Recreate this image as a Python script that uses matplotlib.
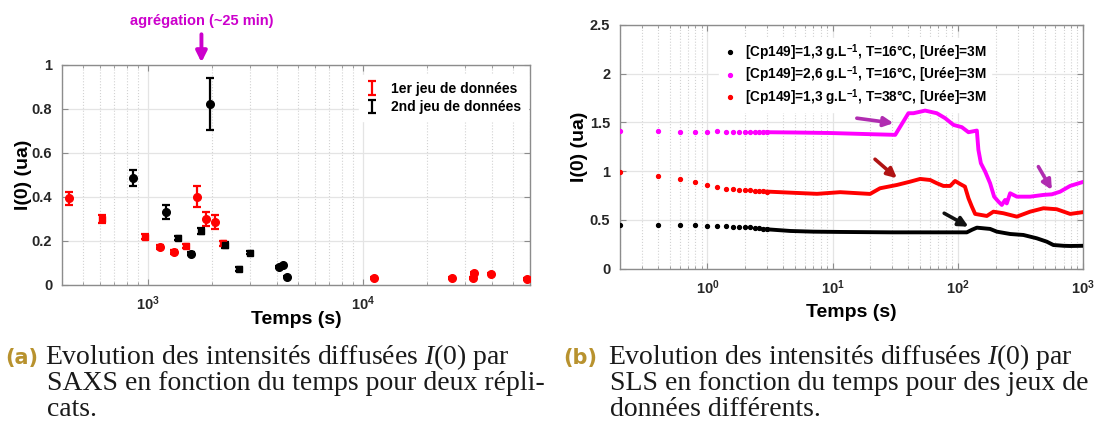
import matplotlib.pyplot as plt
import matplotlib.ticker as mticker
import numpy as np

plt.rcParams['font.family'] = ['Liberation Sans', 'DejaVu Sans']
plt.rcParams['axes.labelweight'] = 'bold'
plt.rcParams['mathtext.fontset'] = 'custom'
plt.rcParams['mathtext.rm'] = 'Liberation Sans:bold'
plt.rcParams['mathtext.bf'] = 'Liberation Sans:bold'
plt.rcParams['mathtext.it'] = 'Liberation Serif:italic'

# SAXS, 1er jeu de données
saxs1_t = [429, 612, 972, 1144, 1328, 1516, 1690, 1867, 2049, 2240,
           11300, 26000, 32500, 33100, 39700, 58200]
saxs1_i = [0.392, 0.298, 0.217, 0.170, 0.147, 0.175, 0.400, 0.298, 0.285, 0.188,
           0.028, 0.030, 0.031, 0.053, 0.050, 0.025]
saxs1_err = [0.029, 0.019, 0.011, 0.008, 0.008, 0.010, 0.047, 0.031, 0.033, 0.012,
             0.004, 0.004, 0.004, 0.005, 0.004, 0.003]
saxs1_mk = ['o', 's', 's', 'o', 'o', 's', 'o', 'o', 'o', 's',
            'o', 'o', 'o', 'o', 'o', 'o']

# SAXS, 2nd jeu de données
saxs2_t = [852, 1220, 1392, 1587, 1766, 1943, 2286, 2667, 3008, 4098, 4263, 4463]
saxs2_i = [0.486, 0.330, 0.213, 0.140, 0.244, 0.823, 0.180, 0.070, 0.145, 0.078, 0.088, 0.036]
saxs2_err = [0.036, 0.030, 0.010, 0.006, 0.012, 0.120, 0.012, 0.010, 0.008, 0.005, 0.005, 0.004]
saxs2_mk = ['o', 'o', 's', 'o', 's', 'o', 's', 's', 's', 'o', 'o', 'o']

# SLS, first seconds (one point every 0.2 s)
sls_t_early = [0.2, 0.4, 0.6, 0.8, 1.0, 1.2, 1.4, 1.6, 1.8, 2.0, 2.2, 2.4, 2.6, 2.8, 3.0]
sls_black_early = [0.449, 0.445, 0.449, 0.445, 0.438, 0.438, 0.435, 0.428, 0.428, 0.428,
                   0.425, 0.421, 0.418, 0.411, 0.404]
sls_magenta_early = [1.414, 1.414, 1.407, 1.407, 1.404, 1.410, 1.404, 1.404, 1.400, 1.404,
                     1.404, 1.404, 1.404, 1.400, 1.400]
sls_red_early = [0.996, 0.952, 0.918, 0.890, 0.859, 0.835, 0.818, 0.815, 0.808, 0.808,
                 0.805, 0.801, 0.798, 0.794, 0.791]

# SLS, later times (dense acquisition)
sls_black_t = [3.0, 4.6, 7, 11.5, 30, 60, 118, 130, 142, 181, 205, 262, 334, 427, 514,
               580, 700, 789, 1000]
sls_black_i = [0.404, 0.387, 0.380, 0.377, 0.373, 0.373, 0.373, 0.400, 0.421, 0.408, 0.380,
               0.356, 0.346, 0.312, 0.277, 0.243, 0.235, 0.233, 0.235]

sls_magenta_t = [3.0, 5, 9.55, 20, 31.6, 40.3, 44.2, 54.8, 67.9, 79.2, 92.3, 107.6, 121.6,
                 141.9, 146, 152.8, 165.4, 181, 195, 211, 224.6, 238.5, 246, 261.7, 296,
                 378, 483, 564, 656, 789, 1000]
sls_magenta_i = [1.400, 1.397, 1.392, 1.380, 1.373, 1.595, 1.595, 1.622, 1.595, 1.544, 1.475,
                 1.452, 1.400, 1.417, 1.219, 1.082, 0.996, 0.877, 0.739, 0.688, 0.654, 0.705,
                 0.670, 0.774, 0.739, 0.739, 0.757, 0.763, 0.790, 0.849, 0.890]

sls_red_t = [3.0, 4.6, 7.5, 11.5, 19.9, 23.9, 32.6, 41.6, 50, 60.1, 67.9, 76.7, 86.8, 95.1,
             104, 114, 121.6, 129.4, 137.5, 170.4, 192.5, 231, 296, 378, 483, 617, 789, 1000]
sls_red_i = [0.791, 0.780, 0.768, 0.785, 0.767, 0.825, 0.859, 0.893, 0.921, 0.910, 0.877,
             0.849, 0.849, 0.900, 0.870, 0.842, 0.723, 0.637, 0.562, 0.541, 0.585, 0.569,
             0.534, 0.585, 0.620, 0.610, 0.562, 0.580]

sls_labels = [r'[Cp149]=1,3 g.L$^{\mathbf{-1}}$, T=16°C, [Urée]=3M',
              r'[Cp149]=2,6 g.L$^{\mathbf{-1}}$, T=16°C, [Urée]=3M',
              r'[Cp149]=1,3 g.L$^{\mathbf{-1}}$, T=38°C, [Urée]=3M']

W, H = 1094, 430
fig = plt.figure(figsize=(W / 100, H / 100), dpi=100)


def px_axes(x0, y0, x1, y1):
    return fig.add_axes([x0 / W, 1 - y1 / H, (x1 - x0) / W, (y1 - y0) / H])


def style_axes(ax):
    for s in ax.spines.values():
        s.set_color('#8c8c8c')
        s.set_linewidth(1.0)
    ax.tick_params(which='both', direction='in', colors='#8c8c8c', labelcolor='#262626',
                   top=True, right=True)
    ax.tick_params(which='major', length=4, labelsize=10.5, pad=7)
    ax.tick_params(which='minor', length=2)
    ax.grid(which='major', color='#e4e4e4', lw=0.9, ls='-')
    ax.grid(which='minor', axis='x', color='#d2d2d2', lw=0.8, ls=':')
    ax.set_axisbelow(True)


def bold_ticks(ax):
    fig.canvas.draw()
    for lbl in ax.get_xticklabels() + ax.get_yticklabels():
        lbl.set_fontweight('bold')


# ---- (a) SAXS ----
ax1 = px_axes(62, 65, 530, 284.5)
style_axes(ax1)
ax1.set_xscale('log')
ax1.set_xlim(400, 6e4)
ax1.set_ylim(0, 1)
ax1.set_yticks([0, 0.2, 0.4, 0.6, 0.8, 1])
ax1.yaxis.set_major_formatter(mticker.FormatStrFormatter('%g'))

for t, v, e, mk in zip(saxs1_t, saxs1_i, saxs1_err, saxs1_mk):
    ax1.errorbar(t, v, yerr=e, fmt=mk, color='#ff0000', ms=5.5 if mk == 'o' else 5,
                 capsize=3, elinewidth=1.6, capthick=1.6, zorder=3)
for t, v, e, mk in zip(saxs2_t, saxs2_i, saxs2_err, saxs2_mk):
    ax1.errorbar(t, v, yerr=e, fmt=mk, color='black', ms=5.5 if mk == 'o' else 5,
                 capsize=3, elinewidth=1.6, capthick=1.6, zorder=3)

h1 = ax1.errorbar([np.nan], [np.nan], yerr=[0.1], fmt='none', ecolor='#ff0000',
                  capsize=3, elinewidth=1.6, capthick=1.6)
h2 = ax1.errorbar([np.nan], [np.nan], yerr=[0.1], fmt='none', ecolor='black',
                  capsize=3, elinewidth=1.6, capthick=1.6)
leg1 = ax1.legend([h1, h2], ['1er jeu de données', '2nd jeu de données'],
                  loc='upper left', bbox_to_anchor=(0.62, 0.985), frameon=True,
                  prop=dict(size=10, weight='bold'), handlelength=0.9, handletextpad=0.9,
                  labelspacing=0.3, borderpad=0.5, fancybox=False)
leg1.get_frame().set_edgecolor('white')
leg1.get_frame().set_alpha(1)

ax1.set_xlabel('Temps (s)', fontsize=14, labelpad=-1)
ax1.set_ylabel('I(0) (ua)', fontsize=14, labelpad=0)

ax1.annotate('', xy=(1780, 1.012), xytext=(1780, 1.14), xycoords='data',
             arrowprops=dict(arrowstyle='-|>', color='#cc00cc', lw=2.8, mutation_scale=16,
                             shrinkA=0, shrinkB=0),
             annotation_clip=False)
ax1.text(1780, 1.2, 'agrégation (~25 min)', color='#cc00cc', fontsize=10.5,
         weight='bold', ha='center', va='center', clip_on=False)

# ---- (b) SLS ----
ax2 = px_axes(620, 25, 1083, 268.7)
style_axes(ax2)
ax2.set_xscale('log')
ax2.set_xlim(0.2, 1000)
ax2.set_ylim(0, 2.5)
ax2.set_yticks([0, 0.5, 1, 1.5, 2, 2.5])
ax2.yaxis.set_major_formatter(mticker.FormatStrFormatter('%g'))

series = [(sls_black_early, sls_black_t, sls_black_i, 'black'),
          (sls_magenta_early, sls_magenta_t, sls_magenta_i, '#ff00ff'),
          (sls_red_early, sls_red_t, sls_red_i, '#ff0000')]
handles = []
for early, t, v, col in series:
    h, = ax2.plot(sls_t_early, early, ls='none', marker='o', ms=2.8, color=col, zorder=3)
    ax2.plot(t, v, color=col, lw=2.8, solid_joinstyle='round', zorder=3)
    handles.append(h)

leg2 = ax2.legend(handles, sls_labels, loc='upper left', bbox_to_anchor=(0.2, 0.975),
                  frameon=True, prop=dict(size=9.8, weight='bold'), handlelength=1.0,
                  handletextpad=0.6, labelspacing=0.12, borderpad=0.3, fancybox=False)
leg2.get_frame().set_edgecolor('white')
leg2.get_frame().set_alpha(1)
leg2.set_zorder(2.5)

ax2.set_xlabel('Temps (s)', fontsize=14, labelpad=5)
ax2.set_ylabel('I(0) (ua)', fontsize=14, labelpad=1)

arrows = [((15.6, 1.544), (30.6, 1.493), '#b02cb0'),
          ((21.8, 1.123), (32.6, 0.928), '#b01414'),
          ((440, 1.047), (564, 0.808), '#b02cb0'),
          ((77.8, 0.569), (121.6, 0.431), '#111111')]
for tail, head, col in arrows:
    ax2.annotate('', xy=head, xytext=tail,
                 arrowprops=dict(arrowstyle='-|>', color=col, lw=2.6, mutation_scale=14,
                                 shrinkA=0, shrinkB=0))

bold_ticks(ax1)
bold_ticks(ax2)

# ---- captions ----
gold = '#b8922e'
cap_kw = dict(fontsize=20, family='Liberation Serif', weight='normal', color='#1a1a1a',
              va='baseline')
lab_kw = dict(fontsize=15, family='DejaVu Sans', weight='bold', color=gold, va='baseline')

fig.text(5 / W, 1 - 364 / H, '(a)', **lab_kw)
fig.text(45 / W, 1 - 364 / H, r'Evolution des intensités diffusées $I$(0) par', **cap_kw)
fig.text(47 / W, 1 - 390 / H, 'SAXS en fonction du temps pour deux répli-', **cap_kw)
fig.text(47 / W, 1 - 416 / H, 'cats.', **cap_kw)

fig.text(563 / W, 1 - 364 / H, '(b)', **lab_kw)
fig.text(608 / W, 1 - 364 / H, r'Evolution des intensités diffusées $I$(0) par', **cap_kw)
fig.text(610 / W, 1 - 390 / H, 'SLS en fonction du temps pour des jeux de', **cap_kw)
fig.text(610 / W, 1 - 416 / H, 'données différents.', **cap_kw)

fig.savefig('out.png', dpi=100)
